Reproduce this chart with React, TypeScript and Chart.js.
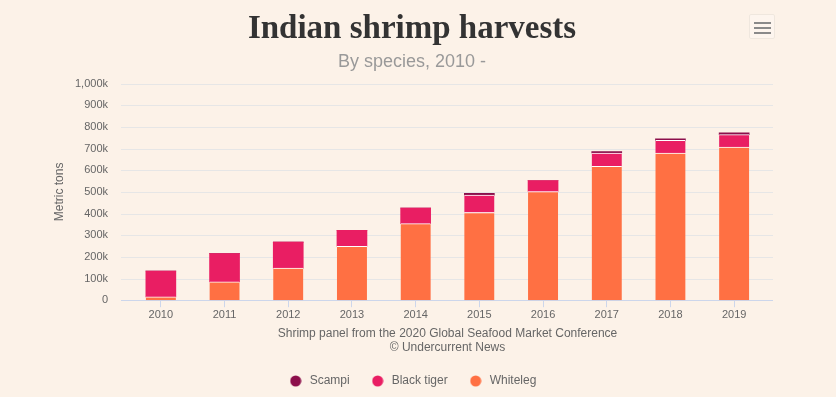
import React, { useEffect, useRef } from 'react';
import { Chart, registerables } from 'chart.js';

Chart.register(...registerables);

const categories = ['2010', '2011', '2012', '2013', '2014', '2015', '2016', '2017', '2018', '2019'];
const whiteleg = [15000, 85000, 148000, 249000, 354000, 405000, 502000, 618000, 680000, 707000];
const blackTiger = [120000, 130000, 120000, 74000, 72000, 80000, 51000, 62000, 58000, 58000];
const scampi = [0, 0, 0, 0, 0, 9000, 0, 6000, 7000, 8000];
const yTickLabels = ['0', '100k', '200k', '300k', '400k', '500k', '600k', '700k', '800k', '900k', '1,000k'];
const titleText = 'Indian shrimp harvests';
const subtitleText = 'By species, 2010 -';
const yAxisTitle = 'Metric tons';
const xAxisTitle = ['Shrimp panel from the 2020 Global Seafood Market Conference', '© Undercurrent News'];

const BG = '#fcf2e8';
const COLORS = { scampi: '#8c0f4b', blackTiger: '#e91e63', whiteleg: '#ff7043' };
const SANS = '"Liberation Sans", Arial, sans-serif';

function dot(color: string) {
  const c = document.createElement('canvas');
  c.width = 12;
  c.height = 12;
  const g = c.getContext('2d')!;
  g.fillStyle = color;
  g.beginPath();
  g.arc(6, 6, 5.5, 0, Math.PI * 2);
  g.fill();
  return c;
}

const gridPlugin = {
  id: 'extGrid',
  beforeDatasetsDraw(chart: any) {
    const { ctx, chartArea } = chart;
    const y = chart.scales.y;
    ctx.save();
    ctx.lineWidth = 1;
    y.ticks.forEach((t: any) => {
      const py = Math.round(y.getPixelForValue(t.value)) + 0.5;
      ctx.strokeStyle = t.value === 0 ? '#ccd6eb' : '#e6e6e6';
      ctx.beginPath();
      ctx.moveTo(chartArea.left - 8, py);
      ctx.lineTo(chartArea.right + 7, py);
      ctx.stroke();
    });
    ctx.restore();
  },
};

const TOP_SEP = { top: 1, right: 0, bottom: 0, left: 0 };

export default function App() {
  const ref = useRef<HTMLCanvasElement>(null);

  useEffect(() => {
    document.body.style.margin = '0';
    document.body.style.background = BG;
    const canvas = ref.current!;
    const dots: Record<string, HTMLCanvasElement> = {
      Scampi: dot(COLORS.scampi),
      'Black tiger': dot(COLORS.blackTiger),
      Whiteleg: dot(COLORS.whiteleg),
    };
    const chart = new Chart(canvas, {
      type: 'bar',
      data: {
        labels: categories,
        datasets: [
          {
            label: 'Whiteleg',
            data: whiteleg,
            backgroundColor: COLORS.whiteleg,
            borderColor: '#ffffff',
            borderWidth: TOP_SEP,
            borderSkipped: false,
            barThickness: 30,
          },
          {
            label: 'Black tiger',
            data: blackTiger,
            backgroundColor: COLORS.blackTiger,
            borderColor: '#ffffff',
            borderWidth: (c: any) => (scampi[c.dataIndex] > 0 ? TOP_SEP : 0),
            borderSkipped: false,
            barThickness: 30,
          },
          {
            label: 'Scampi',
            data: scampi,
            backgroundColor: COLORS.scampi,
            borderWidth: 0,
            barThickness: 30,
          },
        ],
      },
      options: {
        responsive: false,
        animation: false,
        devicePixelRatio: 1,
        layout: { padding: { left: 0, right: 12, top: 0, bottom: 0 } },
        plugins: {
          tooltip: { enabled: false },
          title: {
            display: true,
            text: titleText,
            color: '#333333',
            font: { family: '"Liberation Serif", Georgia, serif', size: 33, weight: 'bold', lineHeight: 1 },
            padding: { top: 12.5, bottom: 0 },
          },
          subtitle: {
            display: true,
            text: subtitleText,
            color: '#999999',
            font: { family: SANS, size: 18, lineHeight: 1 },
            padding: { top: 7.6, bottom: 12.6 },
          },
          legend: {
            position: 'bottom',
            reverse: true,
            labels: {
              color: '#666666',
              font: { family: SANS, size: 12 },
              usePointStyle: true,
              pointStyleWidth: 16,
              padding: 20,
              generateLabels: (ch: any) => {
                const items = Chart.defaults.plugins.legend.labels.generateLabels(ch);
                return items.map((it: any) => ({ ...it, pointStyle: dots[it.text], lineWidth: 0 }));
              },
            },
          },
        },
        scales: {
          x: {
            stacked: true,
            offset: true,
            grid: {
              display: true,
              drawOnChartArea: false,
              drawTicks: true,
              tickLength: 7,
              offset: false,
              color: '#ccd6eb',
            },
            border: { display: false },
            ticks: {
              color: '#666666',
              font: { family: SANS, size: 11 },
              padding: 1,
              maxRotation: 0,
              autoSkip: false,
            },
            title: {
              display: true,
              text: xAxisTitle,
              color: '#666666',
              font: { family: SANS, size: 12, lineHeight: 14 / 12 },
              padding: { top: 4.6, bottom: 0 },
            },
          },
          y: {
            stacked: true,
            min: 0,
            max: 1000000,
            grid: { display: false, drawTicks: false },
            border: { display: false },
            ticks: {
              stepSize: 100000,
              color: '#666666',
              font: { family: SANS, size: 11 },
              padding: 21,
              callback: (_v: any, i: number) => yTickLabels[i],
            },
            title: {
              display: true,
              text: yAxisTitle,
              color: '#666666',
              font: { family: SANS, size: 12, lineHeight: 1.2 },
              padding: { top: 52.8, bottom: 0 },
            },
            afterFit: (s: any) => {
              s.width = 129;
            },
          },
          y2: {
            position: 'right',
            display: true,
            grid: { display: false, drawTicks: false },
            border: { display: false },
            ticks: { display: false },
            afterFit: (s: any) => {
              s.width = 58;
            },
          },
        },
      },
      plugins: [gridPlugin],
    } as any);
    return () => chart.destroy();
  }, []);

  return (
    <div style={{ position: 'relative', width: 836, height: 397, background: BG }}>
      <canvas ref={ref} width={836} height={397} style={{ display: 'block', width: 836, height: 397 }} />
      <div
        style={{
          position: 'absolute',
          left: 749,
          top: 14,
          width: 26,
          height: 25,
          boxSizing: 'border-box',
          border: '1px solid #efe7de',
          borderRadius: 2,
          background: 'rgba(255,255,255,0.25)',
        }}
      >
        {[7, 12, 17].map((t) => (
          <div
            key={t}
            style={{ position: 'absolute', left: 4, top: t, width: 17, height: 2, background: '#8a8a8a' }}
          />
        ))}
      </div>
    </div>
  );
}
